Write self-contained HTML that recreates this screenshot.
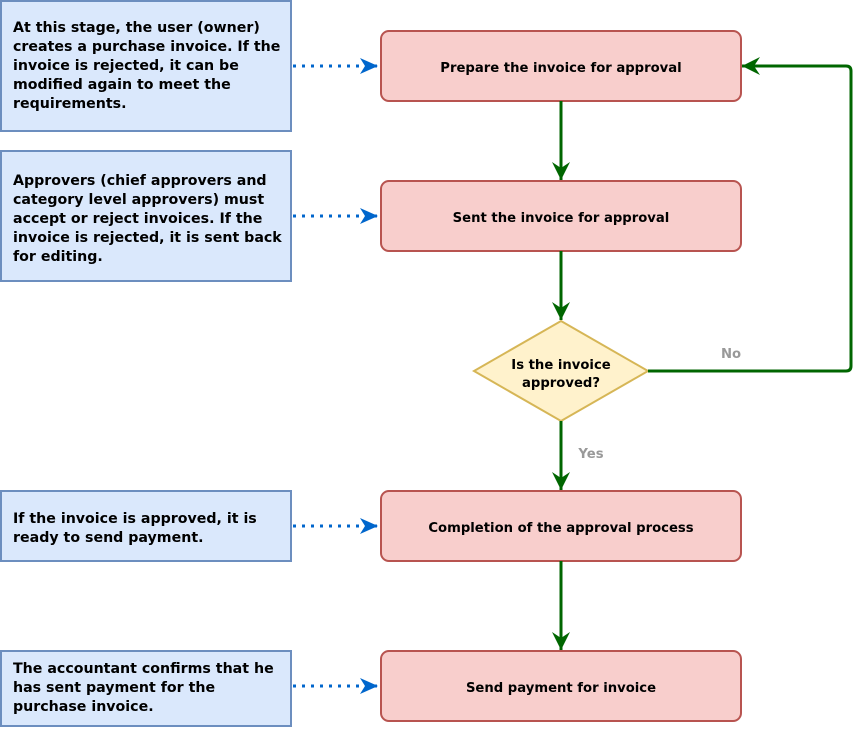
<!DOCTYPE html>
<html><head><meta charset="utf-8"><style>
body{margin:0;background:#fff;}
svg text{font-family:"DejaVu Sans","Liberation Sans",sans-serif;font-weight:bold;font-size:13.2px;fill:#000;}
svg text.l{font-size:14.2px;}
</style></head><body>
<svg width="862" height="728" viewBox="0 0 862 728" xmlns="http://www.w3.org/2000/svg">
<defs>
<marker id="gb" markerWidth="24" markerHeight="24" refX="18" refY="9" orient="auto" markerUnits="userSpaceOnUse"><path d="M0,0 L18,9 L0,18 L6,9Z" fill="#006600"/></marker>
<marker id="b" markerWidth="24" markerHeight="24" refX="18" refY="8" orient="auto" markerUnits="userSpaceOnUse"><path d="M0,0 L18,8 L0,16 L5,8Z" fill="#0066cc"/></marker>
</defs>
<g fill="#dae8fc" stroke="#6c8ebf" stroke-width="2">
<rect x="1" y="1" width="290" height="130"/>
<rect x="1" y="151" width="290" height="130"/>
<rect x="1" y="491" width="290" height="70"/>
<rect x="1" y="651" width="290" height="75"/>
</g>
<g fill="#f8cecc" stroke="#b85450" stroke-width="2">
<rect x="381" y="31" width="360" height="70" rx="8"/>
<rect x="381" y="181" width="360" height="70" rx="8"/>
<rect x="381" y="491" width="360" height="70" rx="8"/>
<rect x="381" y="651" width="360" height="70" rx="8"/>
</g>
<polygon points="561,321 648,371 561,421 474,371" fill="#fff2cc" stroke="#d6b656" stroke-width="2"/>
<g stroke="#0066cc" stroke-width="3" stroke-dasharray="3,6" fill="none">
<line x1="293" y1="66" x2="378" y2="66" marker-end="url(#b)"/>
<line x1="293" y1="216" x2="378" y2="216" marker-end="url(#b)"/>
<line x1="293" y1="526" x2="378" y2="526" marker-end="url(#b)"/>
<line x1="293" y1="686" x2="378" y2="686" marker-end="url(#b)"/>
</g>
<g stroke="#006600" stroke-width="3" fill="none">
<line x1="561" y1="101" x2="561" y2="180" marker-end="url(#gb)"/>
<line x1="561" y1="251" x2="561" y2="320" marker-end="url(#gb)"/>
<line x1="561" y1="421" x2="561" y2="490" marker-end="url(#gb)"/>
<line x1="561" y1="561" x2="561" y2="650" marker-end="url(#gb)"/>
<path d="M648,371 H846 Q851,371 851,366 V71 Q851,66 846,66 H742" marker-end="url(#gb)"/>
</g>
<text class="l" x="13" y="32">At this stage, the user (owner)</text>
<text class="l" x="13" y="51">creates a purchase invoice. If the</text>
<text class="l" x="13" y="70">invoice is rejected, it can be</text>
<text class="l" x="13" y="89">modified again to meet the</text>
<text class="l" x="13" y="108">requirements.</text>
<text class="l" x="13" y="185">Approvers (chief approvers and</text>
<text class="l" x="13" y="204">category level approvers) must</text>
<text class="l" x="13" y="223">accept or reject invoices. If the</text>
<text class="l" x="13" y="242">invoice is rejected, it is sent back</text>
<text class="l" x="13" y="261">for editing.</text>
<text class="l" x="13" y="523">If the invoice is approved, it is</text>
<text class="l" x="13" y="542">ready to send payment.</text>
<text class="l" x="13" y="673">The accountant confirms that he</text>
<text class="l" x="13" y="692">has sent payment for the</text>
<text class="l" x="13" y="711">purchase invoice.</text>
<g text-anchor="middle">
<text x="561" y="72">Prepare the invoice for approval</text>
<text x="561" y="222">Sent the invoice for approval</text>
<text x="561" y="532">Completion of the approval process</text>
<text x="561" y="692">Send payment for invoice</text>
<text x="561" y="369">Is the invoice</text>
<text x="561" y="387">approved?</text>
<text x="731" y="358" style="fill:#999">No</text>
<text x="591" y="458" style="fill:#999">Yes</text>
</g>
</svg>
</body></html>
